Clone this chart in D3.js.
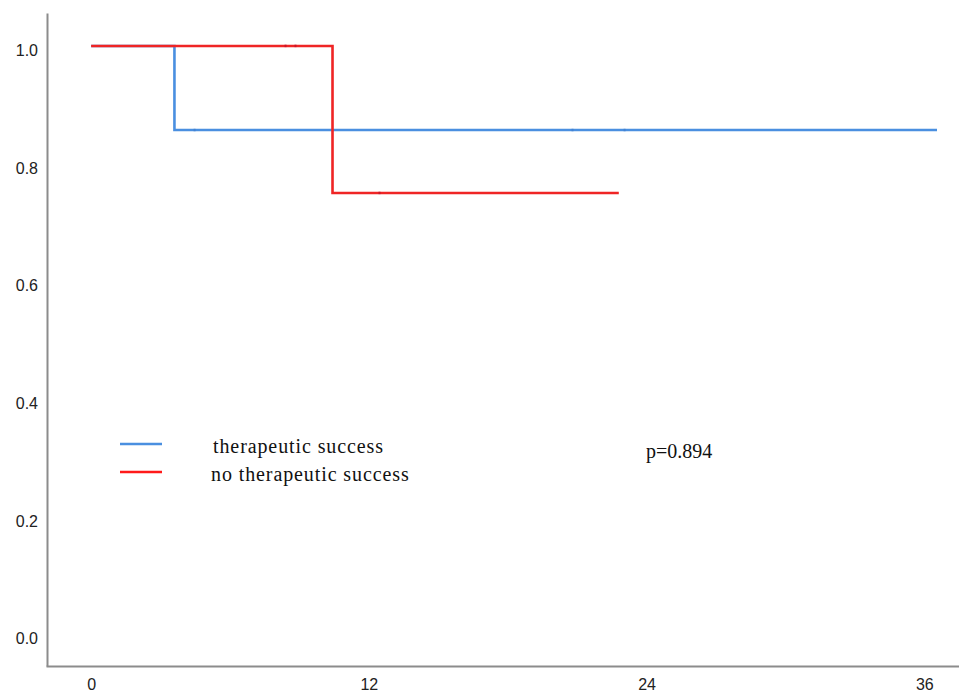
<!DOCTYPE html>
<html>
<head>
<meta charset="utf-8">
<script src="https://cdn.jsdelivr.net/npm/d3@7"></script>
<style>
  html, body { margin: 0; padding: 0; background: #fff; }
  svg { display: block; }
</style>
</head>
<body>
<svg id="chart" width="959" height="693"></svg>
<script>
// ---- data ----
const xTicks = [0, 12, 24, 36];
const yTicks = [0.0, 0.2, 0.4, 0.6, 0.8, 1.0];

// survival step points [time, survival]
const successTimes  = [0, 3.6, 36.55];
const successSurv   = [1.0, 0.857, 0.857];
const noSuccessTimes = [0, 10.43, 22.8];
const noSuccessSurv  = [1.0, 0.75, 0.75];

// censored observations
const successCensorTimes = [4.47, 20.8, 23.05];
const successCensorSurv  = [0.857, 0.857, 0.857];
const noSuccessCensorTimes = [8.4, 8.83, 12.46];
const noSuccessCensorSurv  = [1.0, 1.0, 0.75];

const seriesNames = ["therapeutic success", "no therapeutic success"];
const pValueText = "p=0.894";

// ---- layout ----
const svg = d3.select("#chart");
const x = d3.scaleLinear().domain([-1.95, 37.5]).range([46, 959]);
const y = d3.scaleLinear().domain([-0.0544, 1.056]).range([666, 13]);

const blue = "#4a8fe0";
const red = "#ef2525";

// axes
const yAxis = d3.axisLeft(y).tickValues(yTicks).tickFormat(d3.format(".1f"))
  .tickSize(0).tickSizeOuter(0).tickPadding(9);
const gy = svg.append("g").attr("transform", "translate(47,0)").call(yAxis);
gy.select(".domain").attr("stroke", "#8c8c8c").attr("stroke-width", 2);
gy.selectAll("text").attr("dy", "0.6em")
  .style("font-family", "'Liberation Sans', Arial, sans-serif")
  .style("font-size", "16px").attr("fill", "#222");

const xAxis = d3.axisBottom(x).tickValues(xTicks).tickFormat(d3.format("d"))
  .tickSize(0).tickSizeOuter(0).tickPadding(13);
const gx = svg.append("g").attr("transform", "translate(0,666)").call(xAxis);
gx.select(".domain").attr("stroke", "#8c8c8c").attr("stroke-width", 2);
gx.selectAll("text")
  .style("font-family", "'Liberation Sans', Arial, sans-serif")
  .style("font-size", "16px").attr("fill", "#222");

// step lines
const line = d3.line().x(d => x(d[0])).y(d => y(d[1])).curve(d3.curveStepAfter);
const successPts = successTimes.map((t, i) => [t, successSurv[i]]);
const noSuccessPts = noSuccessTimes.map((t, i) => [t, noSuccessSurv[i]]);

svg.append("path").datum(successPts).attr("d", line)
  .attr("fill", "none").attr("stroke", blue).attr("stroke-width", 2.6)
  .attr("stroke-linejoin", "miter");
svg.append("path").datum(noSuccessPts).attr("d", line)
  .attr("fill", "none").attr("stroke", red).attr("stroke-width", 2.6)
  .attr("stroke-linejoin", "miter");

// censor marks (tiny)
function censor(times, surv, color) {
  svg.append("g").selectAll("line").data(times.map((t, i) => [t, surv[i]])).join("line")
    .attr("x1", d => x(d[0])).attr("x2", d => x(d[0]))
    .attr("y1", d => y(d[1]) - 1.2).attr("y2", d => y(d[1]) + 1.2)
    .attr("stroke", color).attr("stroke-width", 2);
}
censor(successCensorTimes, successCensorSurv, "#4382d2");
censor(noSuccessCensorTimes, noSuccessCensorSurv, "#c8182a");

// legend
const legendLineY = [444, 472];
const legendTextX = [213, 211];
const legendTextY = [453, 481];
seriesNames.forEach((name, i) => {
  svg.append("line").attr("x1", 120).attr("x2", 162)
    .attr("y1", legendLineY[i]).attr("y2", legendLineY[i])
    .attr("stroke", i === 0 ? blue : "#ff1a1a").attr("stroke-width", 2.6);
  svg.append("text").attr("x", legendTextX[i]).attr("y", legendTextY[i])
    .text(name)
    .style("font-family", "'Liberation Serif', 'Times New Roman', serif")
    .style("font-size", "20px").style("letter-spacing", "0.9px").attr("fill", "#111");
});

svg.append("text").attr("x", 646).attr("y", 458).text(pValueText)
  .style("font-family", "'Liberation Serif', 'Times New Roman', serif")
  .style("font-size", "20px").attr("fill", "#111");
</script>
</body>
</html>
